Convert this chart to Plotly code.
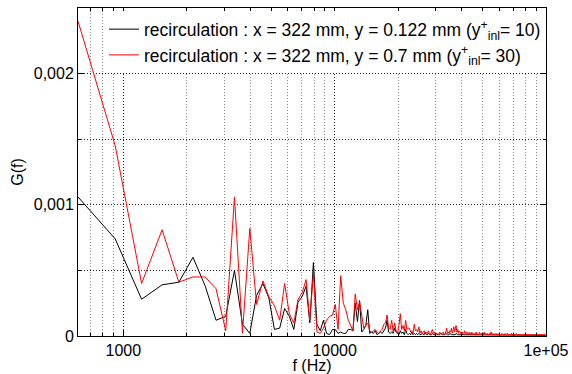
import numpy as np
import plotly.graph_objects as go

# Frequency resolution of the spectra (Hz); first plotted bin is k = 2
DF = 305.17578125
K0 = 2

# G(f) values in units of 1e-5, one value per frequency bin starting at k = 2
black_e5 = [
    106, 74, 28, 39, 41, 60, 38, 12, 15, 50,
    9, 2, 31, 40, 29, 5, 6, 21, 15, 5,
    26, 30, 38, 10, 56, 9, 4, 12, 2, 1,
    5, 5, 2, 3, 2, 2, 5, 5, 4, 25,
    11, 27, 3, 5, 8, 20, 2, 3, 2, 4,
    1, 2, 3, 2, 4, 6, 12, 3, 2, 3,
    2, 6, 3, 2, 1, 4, 2, 3, 1, 5,
    2, 1, 2, 1, 3, 1, 2, 1, 2, 1,
    2, 1, 1, 2, 1, 1, 3, 1, 1, 2,
    1, 1, 1, 2, 1, 1, 1, 2, 1, 1,
    1, 1, 2, 1, 1, 1, 1, 1, 2, 1,
    1, 1, 1, 2, 1, 1, 1, 1, 1, 1,
    1, 2, 1, 1, 1, 1, 1, 1, 1, 0.5,
    1, 0.5, 0.5, 1, 0.5, 0.5, 0.5, 1, 0.5, 0.5,
    0.5, 1, 0.5, 0.5, 0.5, 0.5, 1, 0.5, 0.5, 0.5,
    0.5, 0.5, 0.5, 1, 0.5, 0.5, 0.5, 0.5, 0.5, 0.5,
    0.5, 0.5, 0.5, 0.5, 0.5, 0.5, 0.5, 1, 0.5, 0.5,
    0.5, 0.5, 0.5, 0.5, 0.5, 0.5, 0.5, 0.5, 0.5, 0.5,
    0.5, 0.5, 0.5, 0.5, 0.5, 0.5, 0.5, 0.5, 0.5, 0.5,
    0.5, 0.5, 0.5, 0.5, 0.5, 0.5, 0.5, 0.5, 0.5, 0.5,
    0.5, 0.5, 0.5, 0.5, 0.5, 0.5, 0.5, 0.5, 0.5, 0.5,
    0.5, 0.5, 0.5, 0.5, 0.5, 0.5, 0.5, 0.5, 0.5, 0.5,
    0.5, 0.5, 0.5, 0.5, 0.5, 0.5, 0.5, 0.5, 0.5, 0.5,
    0.5, 0.5, 0.5, 0.5, 0.5, 0.5, 0.5, 0.5, 0.5, 0.5,
    0.5, 0.5, 0.5, 0.5, 0.5, 0.5, 0.5, 0.5, 0.5, 0.5,
    0.5, 0.5, 0.5, 0.5, 0.5, 0.5, 0.5, 0.5, 0.5, 0.5,
    0.5, 0.5, 0.5, 0.5, 0.5, 0.5, 0.5, 0.5, 0.5, 0.5,
    0.5, 0.5, 0.5, 0.5, 0.5, 0.5, 0.5, 0.5, 0.5, 0.5,
    0.5, 0.5, 0.5, 0.5, 0.5, 0.5, 0.5, 0.5, 0.5, 0.5,
    0.5, 0.5, 0.5, 0.5, 0.5, 0.5, 0.5, 0.5, 0.5, 0.5,
    0.5, 0.5, 0.5, 0.5, 0.5, 0.5, 0.5, 0.5, 0.5, 0.5,
    0.5, 0.5, 0.5, 0.5, 0.5, 0.5, 0.5, 0.5, 0.5, 0.5,
    0.5, 0.5, 0.5, 0.5, 0.5, 0.5,
]

red_e5 = [
    240, 145, 40, 81, 41, 45, 45, 36, 4, 106,
    2, 82, 24, 42, 30, 23, 12, 40, 17, 10,
    28, 33, 43, 12, 48, 3, 2, 6, 12, 15,
    16, 24, 5, 46, 25, 20, 12, 8, 4, 32,
    20, 26, 14, 6, 8, 10, 4, 3, 4, 5,
    3, 2, 4, 5, 9, 10, 16, 6, 5, 12,
    3, 10, 4, 2, 8, 17, 5, 8, 4, 12,
    5, 6, 6, 3, 4, 2, 9, 4, 5, 3,
    7, 2, 4, 2, 3, 4, 2, 3, 2, 4,
    2, 1, 3, 5, 2, 3, 1, 2, 1, 2,
    1, 3, 2, 1, 2, 3, 1, 2, 3, 6,
    2, 3, 2, 4, 3, 6, 2, 4, 7, 3,
    5, 8, 3, 5, 2, 4, 3, 2, 3, 2,
    3, 1, 2, 4, 2, 1, 3, 2, 1, 2,
    3, 1, 2, 1, 3, 2, 1, 2, 1, 2,
    1, 3, 1, 2, 1, 1, 2, 3, 1, 1,
    2, 1, 1, 2, 1, 3, 1, 1, 2, 1,
    1, 2, 1, 1, 1, 2, 1, 1, 3, 1,
    1, 1, 2, 1, 1, 1, 2, 1, 1, 1,
    2, 1, 1, 1, 1, 2, 1, 1, 1, 1,
    1, 2, 1, 1, 1, 1, 1, 1, 2, 1,
    1, 1, 1, 2, 1, 1, 1, 1, 1, 1,
    1, 1, 1, 2, 1, 1, 1, 1, 1, 1,
    1, 1, 1, 1, 1, 2, 1, 1, 1, 1,
    1, 1, 1, 1, 1, 1, 1, 1, 1, 1,
    1, 1, 1, 1, 1, 1, 1, 1, 1, 1,
    1, 1, 1, 1, 1, 1, 1, 1, 1, 1,
    1, 1, 1, 1, 1, 1, 1, 1, 1, 1,
    1, 1, 1, 1, 1, 1, 1, 1, 1, 1,
    1, 1, 1, 1, 1, 1, 1, 1, 1, 1,
    1, 1, 1, 1, 1, 1, 1, 1, 1, 1,
    1, 1, 1, 1, 1, 1, 1, 1, 1, 1,
    1, 1, 1, 1, 1, 1,
]

names = [
    "recirculation : x = 322 mm, y = 0.122 mm (y<sup>+</sup><sub>inl</sub>= 10)",
    "recirculation : x = 322 mm, y = 0.7 mm (y<sup>+</sup><sub>inl</sub>= 30)",
]

x_major = [1000, 10000, 100000]
x_major_text = ["1000", "10000", "1e+05"]
x_minor = [700, 800, 900, 2000, 3000, 4000, 5000, 6000, 7000, 8000, 9000,
           20000, 30000, 40000, 50000, 60000, 70000, 80000, 90000]
y_major = [0, 0.001, 0.002]
y_major_text = ["0", "0,001", "0,002"]
y_minor = [0.0005, 0.0015]

def freqs(n):
    return (np.arange(n) + K0) * DF

black = np.array(black_e5) * 1e-5
red = np.array(red_e5) * 1e-5

fig = go.Figure()
fig.add_trace(go.Scatter(x=freqs(len(black)), y=black, mode="lines", name=names[0],
                         line=dict(color="#000000", width=1)))
fig.add_trace(go.Scatter(x=freqs(len(red)), y=red, mode="lines", name=names[1],
                         line=dict(color="#ff0000", width=1)))

FONT = "Liberation Sans, Arial, sans-serif"
DOT = "1px,2px"
fig.update_layout(
    width=572, height=374,
    margin=dict(l=78, r=26, t=8, b=38),
    paper_bgcolor="white", plot_bgcolor="white",
    font=dict(family=FONT, size=16, color="black"),
    showlegend=True,
    legend=dict(x=1, xanchor="right", y=0.99, yanchor="top", bgcolor="white",
                borderwidth=0, font=dict(size=17.5), itemwidth=30,
                tracegroupgap=0),
    hovermode=False,
)
fig.update_xaxes(
    type="log", range=[np.log10(2 * DF), 5], automargin=False,
    tickmode="array", tickvals=x_major, ticktext=x_major_text,
    tickfont=dict(size=16),
    showgrid=True, gridcolor="#222222", griddash=DOT, gridwidth=1,
    ticks="inside", ticklen=6, tickcolor="black",
    showline=True, linecolor="black", linewidth=1, mirror="allticks",
    zeroline=False,
    title=dict(text="f (Hz)", standoff=2, font=dict(size=16)),
    minor=dict(tickmode="array", tickvals=x_minor, showgrid=True,
               gridcolor="#8a8a8a", griddash=DOT, gridwidth=1,
               ticks="inside", ticklen=3, tickcolor="black"),
)
fig.update_yaxes(
    range=[0, 0.0025], automargin=False,
    tickmode="array", tickvals=y_major, ticktext=y_major_text,
    tickfont=dict(size=16),
    showgrid=True, gridcolor="#222222", griddash=DOT, gridwidth=1,
    ticks="inside", ticklen=6, tickcolor="black",
    showline=True, linecolor="black", linewidth=1, mirror="allticks",
    zeroline=False,
    title=dict(text="G(f)", standoff=6, font=dict(size=16)),
    minor=dict(tickmode="array", tickvals=y_minor, showgrid=True,
               gridcolor="#222222", griddash=DOT, gridwidth=1,
               ticks="inside", ticklen=3, tickcolor="black"),
)

fig.write_html("out.html")
